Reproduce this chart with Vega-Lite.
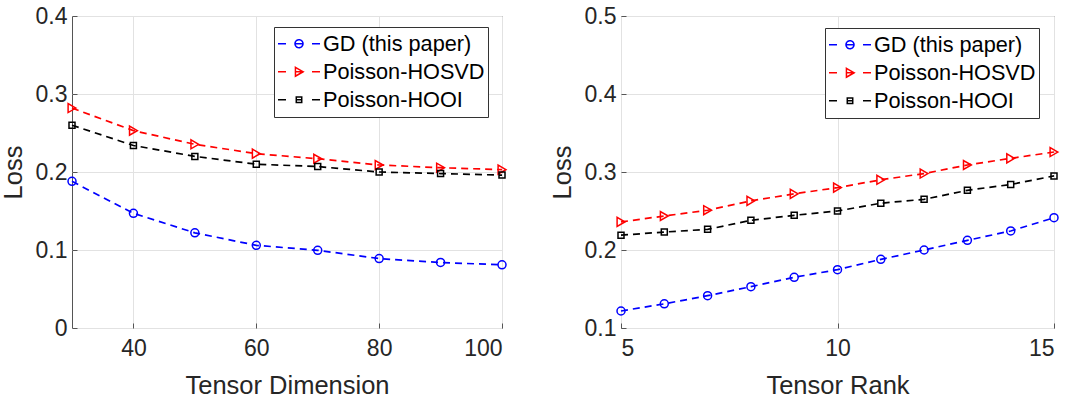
{
  "$schema": "https://vega.github.io/schema/vega-lite/v6.json",
  "background": "white",
  "padding": {"left": 0, "top": 4, "right": 0, "bottom": 0},
  "bounds": "flush",
  "spacing": 119,
  "config": {
    "font": "Liberation Sans",
    "view": {"stroke": "#555555", "strokeWidth": 1},
    "axis": {
      "labelFont": "Liberation Sans",
      "labelFontSize": 23,
      "labelColor": "#262626",
      "titleFont": "Liberation Sans",
      "titleFontSize": 25.5,
      "titleFontWeight": "normal",
      "titleColor": "#262626",
      "gridColor": "#e2e2e2",
      "gridWidth": 1,
      "domain": false,
      "tickColor": "#555555",
      "tickSize": -5
    },
    "axisX": {"labelPadding": 14, "titlePadding": 13},
    "axisY": {"labelPadding": 10, "titlePadding": 9},
    "legend": {
      "orient": "none",
      "direction": "vertical",
      "columns": 1,
      "title": null,
      "strokeColor": "#333333",
      "fillColor": "white",
      "padding": 3,
      "labelFont": "Liberation Sans",
      "labelFontSize": 21.7,
      "labelColor": "#000000",
      "labelOffset": 2,
      "labelLimit": 400,
      "symbolSize": 1764,
      "clipHeight": 27.5,
      "rowPadding": 0,
      "symbolStrokeWidth": 1.5,
      "symbolOffset": 0,
      "symbolOpacity": 1,
      "symbolFillColor": "transparent",
      "symbolDash": [1, 0]
    }
  },
  "datasets": {
    "dim": [
      {"x": 30, "method": "GD (this paper)", "loss": 0.188},
      {"x": 40, "method": "GD (this paper)", "loss": 0.147},
      {"x": 50, "method": "GD (this paper)", "loss": 0.122},
      {"x": 60, "method": "GD (this paper)", "loss": 0.106},
      {"x": 70, "method": "GD (this paper)", "loss": 0.0996},
      {"x": 80, "method": "GD (this paper)", "loss": 0.089},
      {"x": 90, "method": "GD (this paper)", "loss": 0.084},
      {"x": 100, "method": "GD (this paper)", "loss": 0.081},
      {"x": 30, "method": "Poisson-HOSVD", "loss": 0.282},
      {"x": 40, "method": "Poisson-HOSVD", "loss": 0.253},
      {"x": 50, "method": "Poisson-HOSVD", "loss": 0.2355},
      {"x": 60, "method": "Poisson-HOSVD", "loss": 0.2235},
      {"x": 70, "method": "Poisson-HOSVD", "loss": 0.217},
      {"x": 80, "method": "Poisson-HOSVD", "loss": 0.209},
      {"x": 90, "method": "Poisson-HOSVD", "loss": 0.2055},
      {"x": 100, "method": "Poisson-HOSVD", "loss": 0.203},
      {"x": 30, "method": "Poisson-HOOI", "loss": 0.26},
      {"x": 40, "method": "Poisson-HOOI", "loss": 0.234},
      {"x": 50, "method": "Poisson-HOOI", "loss": 0.22},
      {"x": 60, "method": "Poisson-HOOI", "loss": 0.21},
      {"x": 70, "method": "Poisson-HOOI", "loss": 0.207},
      {"x": 80, "method": "Poisson-HOOI", "loss": 0.2},
      {"x": 90, "method": "Poisson-HOOI", "loss": 0.198},
      {"x": 100, "method": "Poisson-HOOI", "loss": 0.196}
    ],
    "rank": [
      {"x": 5, "method": "GD (this paper)", "loss": 0.1218},
      {"x": 6, "method": "GD (this paper)", "loss": 0.131},
      {"x": 7, "method": "GD (this paper)", "loss": 0.1414},
      {"x": 8, "method": "GD (this paper)", "loss": 0.153},
      {"x": 9, "method": "GD (this paper)", "loss": 0.165},
      {"x": 10, "method": "GD (this paper)", "loss": 0.1748},
      {"x": 11, "method": "GD (this paper)", "loss": 0.188},
      {"x": 12, "method": "GD (this paper)", "loss": 0.2},
      {"x": 13, "method": "GD (this paper)", "loss": 0.2124},
      {"x": 14, "method": "GD (this paper)", "loss": 0.2244},
      {"x": 15, "method": "GD (this paper)", "loss": 0.2414},
      {"x": 5, "method": "Poisson-HOSVD", "loss": 0.236},
      {"x": 6, "method": "Poisson-HOSVD", "loss": 0.2436},
      {"x": 7, "method": "Poisson-HOSVD", "loss": 0.251},
      {"x": 8, "method": "Poisson-HOSVD", "loss": 0.263},
      {"x": 9, "method": "Poisson-HOSVD", "loss": 0.272},
      {"x": 10, "method": "Poisson-HOSVD", "loss": 0.28},
      {"x": 11, "method": "Poisson-HOSVD", "loss": 0.29},
      {"x": 12, "method": "Poisson-HOSVD", "loss": 0.298},
      {"x": 13, "method": "Poisson-HOSVD", "loss": 0.309},
      {"x": 14, "method": "Poisson-HOSVD", "loss": 0.3175},
      {"x": 15, "method": "Poisson-HOSVD", "loss": 0.3256},
      {"x": 5, "method": "Poisson-HOOI", "loss": 0.219},
      {"x": 6, "method": "Poisson-HOOI", "loss": 0.223},
      {"x": 7, "method": "Poisson-HOOI", "loss": 0.2265},
      {"x": 8, "method": "Poisson-HOOI", "loss": 0.238},
      {"x": 9, "method": "Poisson-HOOI", "loss": 0.2445},
      {"x": 10, "method": "Poisson-HOOI", "loss": 0.25},
      {"x": 11, "method": "Poisson-HOOI", "loss": 0.26},
      {"x": 12, "method": "Poisson-HOOI", "loss": 0.265},
      {"x": 13, "method": "Poisson-HOOI", "loss": 0.2765},
      {"x": 14, "method": "Poisson-HOOI", "loss": 0.284},
      {"x": 15, "method": "Poisson-HOOI", "loss": 0.295}
    ]
  },
  "hconcat": [
    {
      "width": 430,
      "height": 312,
      "data": {"name": "dim"},
      "encoding": {
        "x": {"field": "x", "type": "quantitative", "scale": {"domain": [30, 100], "nice": false, "zero": false}, "axis": {"values": [40, 60, 80, 100], "title": "Tensor Dimension"}},
        "y": {"field": "loss", "type": "quantitative", "scale": {"domain": [0, 0.4], "nice": false}, "axis": {"values": [0, 0.1, 0.2, 0.3, 0.4], "format": "~g", "title": "Loss"}},
        "color": {
          "field": "method", "type": "nominal",
          "scale": {"domain": ["GD (this paper)", "Poisson-HOSVD", "Poisson-HOOI"], "range": ["#0000ff", "#ff0000", "#000000"]},
          "legend": {"legendX": 202, "legendY": 11}
        }
      },
      "layer": [
        {"mark": {"type": "line", "strokeDash": [7, 5], "strokeWidth": 1.7}},
        {
          "transform": [{"filter": "datum.x < 0"}],
          "mark": {"type": "point", "filled": false, "strokeWidth": 1.5},
          "encoding": {
            "shape": {
              "field": "method", "type": "nominal",
              "scale": {"domain": ["GD (this paper)", "Poisson-HOSVD", "Poisson-HOOI"], "range": [
                "M-1,0H-0.62M-0.19,0H0.19M0.62,0H1M0.19,0A0.19,0.19 0 1 1 -0.19,0A0.19,0.19 0 1 1 0.19,0",
                "M-1,0H-0.62M-0.17,-0.21L0.2,0L-0.17,0.21ZM-0.17,0H0.2M0.62,0H1",
                "M-1,0H-0.62M-0.13,-0.13H0.13V0.13H-0.13ZM-0.13,0H0.13M0.62,0H1"
              ]},
              "legend": {"legendX": 202, "legendY": 11}
            }
          }
        },
        {
          "transform": [{"filter": "datum.method === 'GD (this paper)'"}],
          "mark": {"type": "point", "filled": false, "strokeWidth": 1.5, "shape": "circle", "size": 64, "opacity": 1}
        },
        {
          "transform": [{"filter": "datum.method === 'Poisson-HOSVD'"}],
          "mark": {"type": "point", "filled": false, "strokeWidth": 1.5, "shape": "triangle-right", "size": 81, "opacity": 1}
        },
        {
          "transform": [{"filter": "datum.method === 'Poisson-HOOI'"}],
          "mark": {"type": "point", "filled": false, "strokeWidth": 1.5, "shape": "square", "size": 36, "opacity": 1}
        }
      ]
    },
    {
      "width": 433,
      "height": 312,
      "data": {"name": "rank"},
      "encoding": {
        "x": {"field": "x", "type": "quantitative", "scale": {"domain": [5, 15], "nice": false, "zero": false}, "axis": {"values": [5, 10, 15], "title": "Tensor Rank"}},
        "y": {"field": "loss", "type": "quantitative", "scale": {"domain": [0.1, 0.5], "nice": false, "zero": false}, "axis": {"values": [0.1, 0.2, 0.3, 0.4, 0.5], "format": "~g", "title": "Loss"}},
        "color": {
          "field": "method", "type": "nominal",
          "scale": {"domain": ["GD (this paper)", "Poisson-HOSVD", "Poisson-HOOI"], "range": ["#0000ff", "#ff0000", "#000000"]},
          "legend": {"legendX": 204, "legendY": 12}
        }
      },
      "layer": [
        {"mark": {"type": "line", "strokeDash": [7, 5], "strokeWidth": 1.7}},
        {
          "transform": [{"filter": "datum.x < 0"}],
          "mark": {"type": "point", "filled": false, "strokeWidth": 1.5},
          "encoding": {
            "shape": {
              "field": "method", "type": "nominal",
              "scale": {"domain": ["GD (this paper)", "Poisson-HOSVD", "Poisson-HOOI"], "range": [
                "M-1,0H-0.62M-0.19,0H0.19M0.62,0H1M0.19,0A0.19,0.19 0 1 1 -0.19,0A0.19,0.19 0 1 1 0.19,0",
                "M-1,0H-0.62M-0.17,-0.21L0.2,0L-0.17,0.21ZM-0.17,0H0.2M0.62,0H1",
                "M-1,0H-0.62M-0.13,-0.13H0.13V0.13H-0.13ZM-0.13,0H0.13M0.62,0H1"
              ]},
              "legend": {"legendX": 204, "legendY": 12}
            }
          }
        },
        {
          "transform": [{"filter": "datum.method === 'GD (this paper)'"}],
          "mark": {"type": "point", "filled": false, "strokeWidth": 1.5, "shape": "circle", "size": 64, "opacity": 1}
        },
        {
          "transform": [{"filter": "datum.method === 'Poisson-HOSVD'"}],
          "mark": {"type": "point", "filled": false, "strokeWidth": 1.5, "shape": "triangle-right", "size": 81, "opacity": 1}
        },
        {
          "transform": [{"filter": "datum.method === 'Poisson-HOOI'"}],
          "mark": {"type": "point", "filled": false, "strokeWidth": 1.5, "shape": "square", "size": 36, "opacity": 1}
        }
      ]
    }
  ],
  "resolve": {"scale": {"color": "independent", "shape": "independent"}, "legend": {"color": "independent", "shape": "independent"}}
}
